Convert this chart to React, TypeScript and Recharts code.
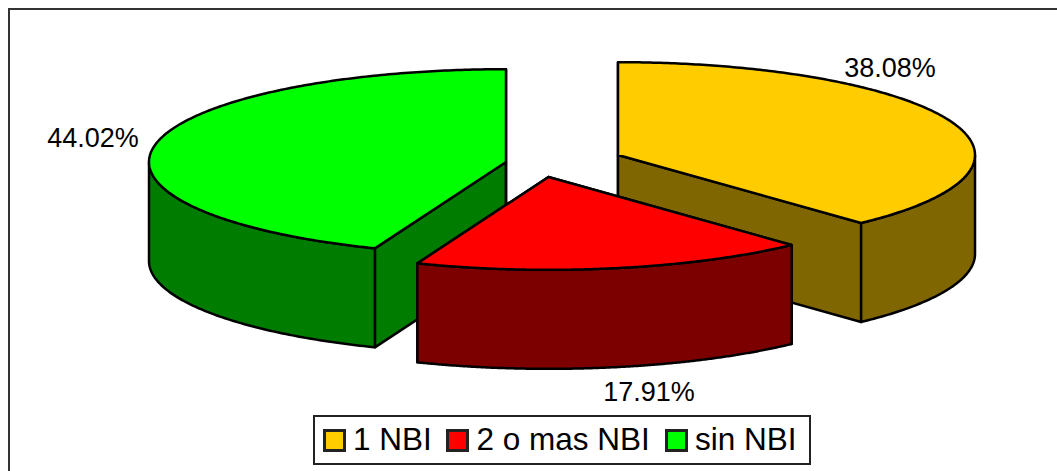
import { Legend, Pie, PieChart } from "recharts";

const categories = ["1 NBI", "2 o mas NBI", "sin NBI"];
const shares = [38.08, 17.91, 44.02];

const TOP_COLORS: Record<string, string> = {
  "1 NBI": "#FFCC00",
  "2 o mas NBI": "#FF0000",
  "sin NBI": "#00FF00",
};
const WALL_COLORS: Record<string, string> = {
  "1 NBI": "#806600",
  "2 o mas NBI": "#7C0000",
  "sin NBI": "#007C00",
};
// exploded slice positions, relative to the pie centre
const EXPLODE: Record<string, [number, number]> = {
  "1 NBI": [55, -15],
  "2 o mas NBI": [-14.5, 7],
  "sin NBI": [-57, -8],
};
const LABEL_POS: Record<string, [number, number]> = {
  "1 NBI": [890, 68],
  "2 o mas NBI": [649, 392],
  "sin NBI": [93, 138],
};
// marker and text x inside the legend box
const LEGEND_X: Record<string, [number, number]> = {
  "1 NBI": [10, 40],
  "2 o mas NBI": [133, 163.5],
  "sin NBI": [352, 382],
};

const SQUASH = 0.26;
const DEPTH = 99;
const TOTAL = shares.reduce((a, b) => a + b, 0);

// sin NBI has to be painted first, the red slice sits on top of its wall
const drawOrder = [2, 0, 1];
const data = drawOrder.map((i) => ({ name: categories[i], value: shares[i] }));
const firstAngle = 90 - ((shares[0] + shares[1]) / TOTAL) * 360;

function Slice3D(props: any) {
  const { cx, cy, outerRadius, startAngle, endAngle, name } = props;
  const [ox, oy] = EXPLODE[name];
  const ax = cx + ox;
  const ay = cy + oy;
  const pt = (deg: number, z = 0): [number, number] => {
    const r = (deg * Math.PI) / 180;
    return [ax + outerRadius * Math.cos(r), ay - outerRadius * SQUASH * Math.sin(r) + z];
  };
  const steps = 240;
  const angles: number[] = [];
  for (let i = 0; i <= steps; i++) angles.push(startAngle + ((endAngle - startAngle) * i) / steps);
  const toPath = (pts: [number, number][]) =>
    pts.map((p, i) => `${i ? "L" : "M"}${p[0].toFixed(2)},${p[1].toFixed(2)}`).join(" ");

  const front = angles.filter((a) => Math.sin((a * Math.PI) / 180) <= 0);
  const wallPts = [...front.map((a) => pt(a)), ...[...front].reverse().map((a) => pt(a, DEPTH))];
  const face = (deg: number) =>
    toPath([[ax, ay], pt(deg), pt(deg, DEPTH), [ax, ay + DEPTH]]) + " Z";
  const common = {
    stroke: "#000",
    strokeWidth: 2.5,
    strokeLinejoin: "round" as const,
  };
  return (
    <g>
      <path d={face(startAngle)} fill={WALL_COLORS[name]} {...common} />
      <path d={face(endAngle)} fill={WALL_COLORS[name]} {...common} />
      {front.length > 1 && <path d={toPath(wallPts) + " Z"} fill={WALL_COLORS[name]} {...common} />}
      <path d={toPath([[ax, ay], ...angles.map((a) => pt(a))]) + " Z"} fill={TOP_COLORS[name]} {...common} />
    </g>
  );
}

function renderLabel(props: any) {
  const [x, y] = LABEL_POS[props.name];
  return (
    <text
      x={x}
      y={y}
      textAnchor="middle"
      dominantBaseline="central"
      fontSize={27}
      fontFamily="'Liberation Sans', Arial, sans-serif"
      fill="#000"
    >
      {props.value.toFixed(2)}%
    </text>
  );
}

function renderLegend() {
  return (
    <div
      style={{
        position: "relative",
        boxSizing: "border-box",
        width: 498,
        height: 50,
        background: "#fff",
        border: "2px solid #222",
        fontFamily: "'Liberation Sans', Arial, sans-serif",
        fontSize: 31.5,
        color: "#000",
      }}
    >
      {categories.map((c) => (
        <span key={c}>
          <span
            style={{
              position: "absolute",
              boxSizing: "border-box",
              left: LEGEND_X[c][0] - 2,
              top: 12,
              width: 23,
              height: 23,
              background: TOP_COLORS[c],
              border: "3px solid #222",
            }}
          />
          <span
            style={{
              position: "absolute",
              left: LEGEND_X[c][1] - 2,
              top: 0,
              lineHeight: "44px",
              whiteSpace: "nowrap",
            }}
          >
            {c}
          </span>
        </span>
      ))}
    </div>
  );
}

export default function App() {
  return (
    <div style={{ position: "absolute", left: 0, top: 0, width: 1057, height: 471, overflow: "hidden", background: "#fff" }}>
      <div
        style={{
          position: "absolute",
          left: 8,
          top: 8,
          right: 0,
          bottom: 0,
          borderLeft: "2px solid #333",
          borderTop: "2px solid #333",
        }}
      />
      <PieChart width={1057} height={471} margin={{ top: 0, right: 0, bottom: 0, left: 0 }} style={{ position: "absolute", left: 0, top: 0 }}>
        <Pie
          data={data}
          dataKey="value"
          nameKey="name"
          cx={563}
          cy={170}
          outerRadius={357}
          startAngle={firstAngle}
          endAngle={firstAngle - 360}
          paddingAngle={0}
          shape={Slice3D}
          label={renderLabel}
          labelLine={false}
          isAnimationActive={false}
          rootTabIndex={-1}
        />
        <Legend
          content={renderLegend}
          wrapperStyle={{ position: "absolute", left: 313, top: 415, width: 498, height: 50, bottom: "auto" }}
        />
      </PieChart>
    </div>
  );
}
